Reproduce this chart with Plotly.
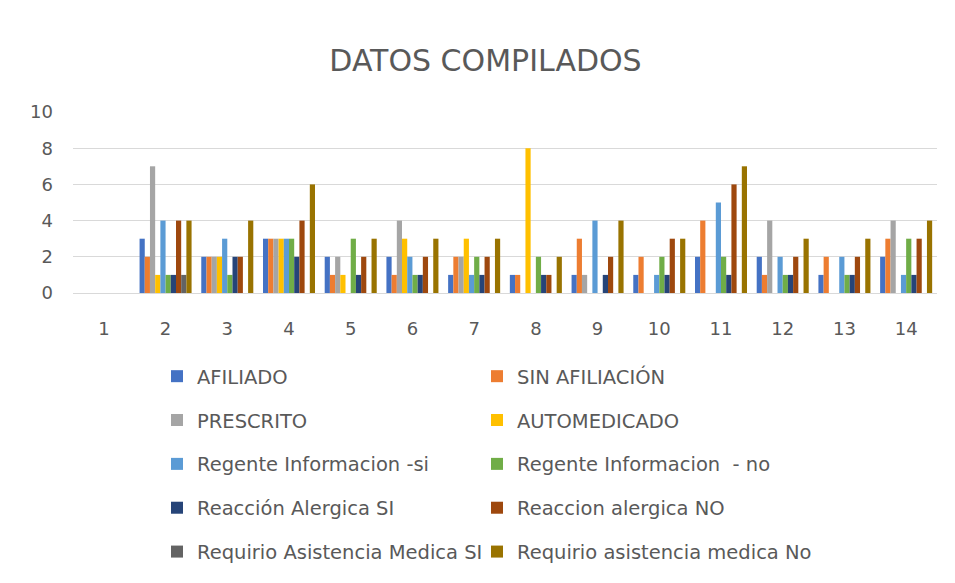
import plotly.graph_objects as go

categories = [str(i) for i in range(1, 15)]

series_names = [
    "AFILIADO", "SIN AFILIACIÓN", "PRESCRITO", "AUTOMEDICADO",
    "Regente Informacion -si", "Regente Informacion  - no",
    "Reacción Alergica SI", "Reaccion alergica NO",
    "Requirio Asistencia Medica SI", "Requirio asistencia medica No",
]

afiliado        = [0, 3, 2, 3, 2, 2, 1, 1, 1, 1, 2, 2, 1, 2]
sin_afiliacion  = [0, 2, 2, 3, 1, 1, 2, 1, 3, 2, 4, 1, 2, 3]
prescrito       = [0, 7, 2, 3, 2, 4, 2, 0, 1, 0, 0, 4, 0, 4]
automedicado    = [0, 1, 2, 3, 1, 3, 3, 8, 0, 0, 0, 0, 0, 0]
regente_si      = [0, 4, 3, 3, 0, 2, 1, 0, 4, 1, 5, 2, 2, 1]
regente_no      = [0, 1, 1, 3, 3, 1, 2, 2, 0, 2, 2, 1, 1, 3]
reaccion_si     = [0, 1, 2, 2, 1, 1, 1, 1, 1, 1, 1, 1, 1, 1]
reaccion_no     = [0, 4, 2, 4, 2, 2, 2, 1, 2, 3, 6, 2, 2, 3]
asistencia_si   = [0, 1, 0, 0, 0, 0, 0, 0, 0, 0, 0, 0, 0, 0]
asistencia_no   = [0, 4, 4, 6, 3, 3, 3, 2, 4, 3, 7, 3, 3, 4]

series_values = [afiliado, sin_afiliacion, prescrito, automedicado, regente_si,
                 regente_no, reaccion_si, reaccion_no, asistencia_si, asistencia_no]

colors = ["#4472C4", "#ED7D31", "#A5A5A5", "#FFC000", "#5B9BD5",
          "#70AD47", "#264478", "#9E480E", "#636363", "#997300"]

y_ticks = [0, 2, 4, 6, 8, 10]

fig = go.Figure()
for i, (name, vals, col) in enumerate(zip(series_names, series_values, colors)):
    fig.add_trace(go.Bar(
        x=categories, y=vals, name=name,
        marker=dict(color=col, line=dict(width=0)),
        legend="legend" if i % 2 == 0 else "legend2",
        legendgroup=f"g{i}",
    ))

txt = "#595959"
leg_common = dict(orientation="v", xref="container", yref="container",
                  xanchor="left", yanchor="top",
                  font=dict(size=19.5, color=txt), tracegroupgap=15.5,
                  bgcolor="rgba(0,0,0,0)", itemclick=False)

fig.update_layout(
    width=955, height=583,
    margin=dict(l=65, r=26, t=104, b=298, autoexpand=False),
    paper_bgcolor="white", plot_bgcolor="white",
    barmode="group", bargap=0.157, bargroupgap=0,
    font=dict(family="DejaVu Sans", color=txt),
    title=dict(text="DATOS COMPILADOS", x=0.5, xanchor="center",
               y=1 - 52 / 583, yanchor="middle",
               font=dict(family="DejaVu Sans", size=30, color=txt)),
    xaxis=dict(type="category", showgrid=False, zeroline=False,
               showline=True, linecolor="#D9D9D9", linewidth=1,
               ticks="", tickfont=dict(size=18, color=txt),
               ticklabelstandoff=19),
    yaxis=dict(range=[0, 10], tickvals=y_ticks, showgrid=True,
               gridcolor="#D9D9D9", gridwidth=1, zeroline=False,
               showline=False, ticks="", tickfont=dict(size=18, color=txt),
               ticklabelstandoff=19),
    legend=dict(x=149 / 955, y=1 - 349 / 583, **leg_common),
    legend2=dict(x=469 / 955, y=1 - 349 / 583, **leg_common),
)

fig.write_html("out.html")
